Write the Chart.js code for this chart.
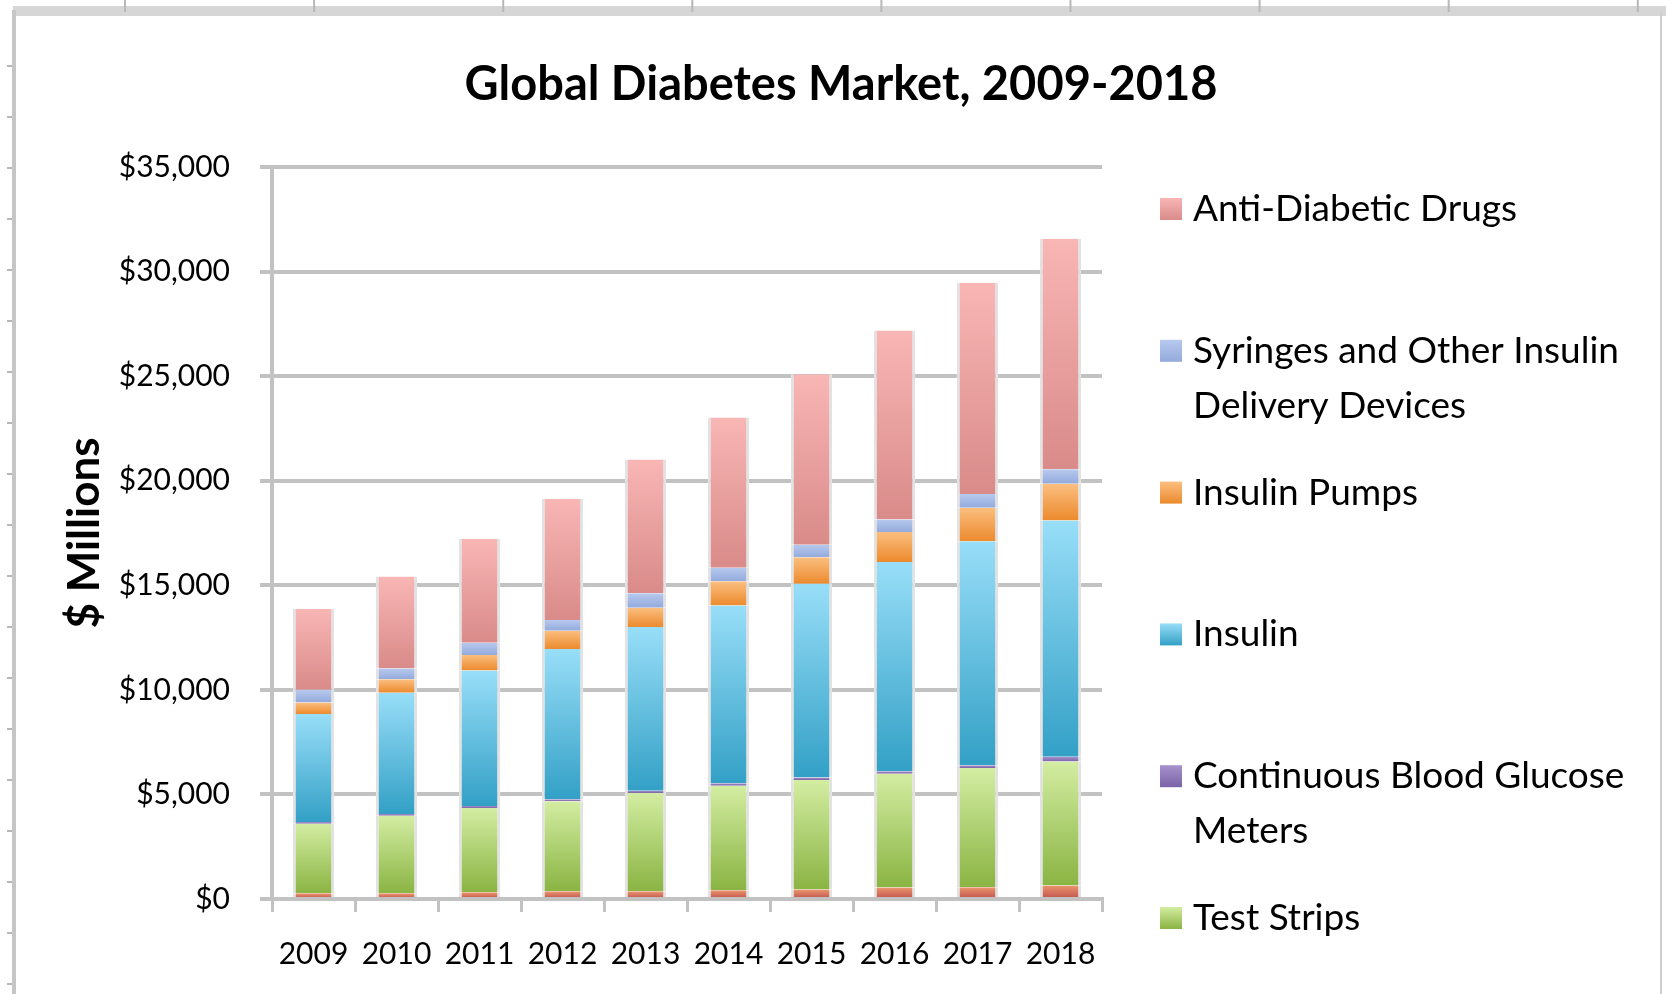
<!DOCTYPE html>
<html>
<head>
<meta charset="utf-8">
<script src="https://cdn.jsdelivr.net/npm/chart.js@4.4.1/dist/chart.umd.min.js"></script>
<style>
  html, body { margin: 0; padding: 0; background: #fff; overflow: hidden; }
  .chart-wrapper { width: 1666px; height: 994px; position: relative; }
</style>
</head>
<body>
<div class="chart-wrapper"><canvas id="marketChart"></canvas></div>
<script>
/*  Data ($ millions), stacked bottom to top --------------------------------- */
const years = ['2009', '2010', '2011', '2012', '2013', '2014', '2015', '2016', '2017', '2018'];

// thin red stripe at the bottom; its legend entry is cut off in the picture
const meters     = [280, 280, 320, 370, 370, 420, 450, 550, 560, 650];
const testStrips = [3320, 3700, 4030, 4300, 4700, 5000, 5240, 5440, 5700, 5920];
const cgm        = [80, 90, 100, 100, 110, 110, 120, 120, 130, 230];
const insulin    = [5160, 5790, 6480, 7180, 7820, 8500, 9260, 10000, 10720, 11300];
const pumps      = [560, 650, 740, 880, 930, 1160, 1270, 1440, 1600, 1760];
const syringes   = [600, 510, 580, 510, 690, 650, 600, 600, 650, 690];
const drugs      = [3870, 4400, 4980, 5790, 6390, 7180, 8150, 9030, 10100, 11020];

const seriesNames = [
  'Blood Glucose Meters',
  'Test Strips',
  'Continuous Blood Glucose Meters',
  'Insulin',
  'Insulin Pumps',
  'Syringes and Other Insulin Delivery Devices',
  'Anti-Diabetic Drugs',
];
const yTickValues = [0, 5000, 10000, 15000, 20000, 25000, 30000, 35000];

/*  Colours: [top of segment, bottom of segment] ----------------------------- */
const palette = [
  ['#ea966e', '#c0504d'],
  ['#d3eda2', '#8ab443'],
  ['#a792cc', '#7a62a6'],
  ['#98def8', '#33a0c6'],
  ['#fbbf80', '#ec8a2d'],
  ['#b7c9ee', '#93aadc'],
  ['#f8b6b5', '#d98b89'],
];

const FONT = 'Lato, "Open Sans", sans-serif';

// vertical gradient for each stacked piece, light at the top
function segmentGradient(colors) {
  return (c) => {
    const chart = c.chart;
    const y = chart.scales.y;
    if (c.type !== 'data' || !y) return colors[1];
    let base = 0;
    for (let d = 0; d < c.datasetIndex; d++) base += chart.data.datasets[d].data[c.dataIndex];
    const top = base + chart.data.datasets[c.datasetIndex].data[c.dataIndex];
    const y0 = y.getPixelForValue(base);
    const y1 = y.getPixelForValue(top);
    if (!isFinite(y0) || !isFinite(y1) || y0 === y1) return colors[1];
    const g = chart.ctx.createLinearGradient(0, y1, 0, y0);
    g.addColorStop(0, colors[0]);
    g.addColorStop(1, colors[1]);
    return g;
  };
}

const seriesData = [meters, testStrips, cgm, insulin, pumps, syringes, drugs];

/*  Spreadsheet frame behind the chart --------------------------------------- */
const sheetFrame = {
  id: 'sheetFrame',
  beforeDraw(chart) {
    const { ctx, width, height } = chart;
    ctx.save();
    ctx.fillStyle = '#fff';
    ctx.fillRect(0, 0, width, height);

    ctx.fillStyle = '#d6d6d6';
    ctx.fillRect(13, 6, width - 13, 10);

    ctx.strokeStyle = '#b8b8b8';
    ctx.lineWidth = 2;
    for (let x = 125; x < width; x += 189.1) {
      ctx.beginPath(); ctx.moveTo(x, 0); ctx.lineTo(x, 12); ctx.stroke();
    }
    for (let y = 66; y < height; y += 51) {
      ctx.beginPath(); ctx.moveTo(7, y); ctx.lineTo(14, y); ctx.stroke();
    }

    ctx.strokeStyle = '#c6c6c6';
    ctx.lineWidth = 4;
    ctx.beginPath(); ctx.moveTo(14, 10); ctx.lineTo(14, height); ctx.stroke();

    ctx.strokeStyle = '#cfcfcf';
    ctx.lineWidth = 2;
    ctx.beginPath(); ctx.moveTo(1661, 12); ctx.lineTo(1661, height); ctx.stroke();
    ctx.restore();
  },
};

/*  Legend on the right, with wrapped names ---------------------------------- */
const sideLegend = {
  id: 'sideLegend',
  afterDraw(chart) {
    const { ctx } = chart;
    const boxX = 1160, textX = 1193, maxW = 462;
    const firstY = 209, step = 141.8, lineH = 55;
    ctx.save();
    ctx.font = `37px ${FONT}`;
    ctx.textBaseline = 'middle';
    ctx.fillStyle = '#000';

    const order = [6, 5, 4, 3, 2, 1]; // top of stack first, bottom stripe is cut off
    order.forEach((dsIndex, i) => {
      const cy = firstY + i * step;
      const g = ctx.createLinearGradient(0, cy - 11, 0, cy + 11);
      g.addColorStop(0, palette[dsIndex][0]);
      g.addColorStop(1, palette[dsIndex][1]);
      ctx.fillStyle = g;
      ctx.fillRect(boxX, cy - 11, 22, 22);

      // word wrap
      const words = seriesNames[dsIndex].split(' ');
      const lines = [];
      let line = '';
      words.forEach((w) => {
        const test = line ? line + ' ' + w : w;
        if (ctx.measureText(test).width > maxW && line) {
          lines.push(line);
          line = w;
        } else {
          line = test;
        }
      });
      lines.push(line);

      ctx.fillStyle = '#000';
      lines.forEach((l, k) => ctx.fillText(l, textX, cy + k * lineH));
    });
    ctx.restore();
  },
};

/*  Chart -------------------------------------------------------------------- */
const gridGrey = '#c2c2c2';

new Chart(document.getElementById('marketChart'), {
  type: 'bar',
  data: {
    labels: years,
    datasets: seriesData.map((arr, i) => ({
      label: seriesNames[i],
      data: arr,
      backgroundColor: segmentGradient(palette[i]),
      borderColor: '#e2e2e2',
      borderWidth: { left: 3, right: 3, top: 0, bottom: 0 },
      borderSkipped: false,
      categoryPercentage: 1,
      barPercentage: 0.5,
    })),
  },
  options: {
    responsive: true,
    maintainAspectRatio: false,
    animation: false,
    devicePixelRatio: 1,
    layout: { padding: { left: 16, right: 0, top: 0, bottom: 0 } },
    plugins: {
      legend: { display: false },
      tooltip: { enabled: false },
      title: {
        display: true,
        text: 'Global Diabetes Market, 2009-2018',
        color: '#000',
        font: { family: FONT, size: 47, weight: 'bold', lineHeight: 1.2 },
        padding: { top: 56.8, bottom: 53.8 },
      },
    },
    scales: {
      x: {
        stacked: true,
        offset: true,
        afterFit: (s) => { s.height = 95; },
        grid: {
          display: true,
          offset: true,
          drawOnChartArea: false,
          drawTicks: true,
          tickLength: 13,
          color: gridGrey,
          lineWidth: 3,
        },
        border: { display: true, color: gridGrey, width: 4 },
        ticks: {
          color: '#000',
          padding: 24,
          font: { family: FONT, size: 30 },
        },
      },
      y: {
        stacked: true,
        min: 0,
        max: 35000,
        afterFit: (s) => { s.width = 256; },
        afterBuildTicks: (s) => { s.ticks = yTickValues.map((v) => ({ value: v })); },
        grid: { color: gridGrey, lineWidth: 4, tickLength: 12 },
        border: { display: true, color: gridGrey, width: 4 },
        ticks: {
          color: '#000',
          padding: 30,
          font: { family: FONT, size: 30 },
          callback: (v) => '$' + Number(v).toLocaleString('en-US'),
        },
        title: {
          display: true,
          text: '$ Millions',
          color: '#000',
          font: { family: FONT, size: 44, weight: 'bold', lineHeight: 1.2 },
          padding: { top: 42.6, bottom: 0 },
        },
      },
      // empty axis that keeps room for the legend on the right
      yRight: {
        type: 'linear',
        position: 'right',
        display: true,
        afterFit: (s) => { s.width = 564; },
        grid: { display: false, drawTicks: false },
        border: { display: false },
        ticks: { display: false },
      },
    },
  },
  plugins: [sheetFrame, sideLegend],
});
</script>
</body>
</html>
